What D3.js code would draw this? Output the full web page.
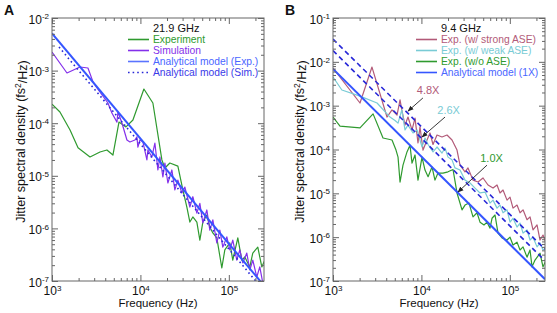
<!DOCTYPE html>
<html>
<head>
<meta charset="utf-8">
<script src="https://cdn.jsdelivr.net/npm/d3@7"></script>
<style>
  body { margin: 0; background: #fff; }
  svg { font-family: "Liberation Sans", Arial, sans-serif; }
</style>
</head>
<body>
<svg id="chart" width="557" height="313"></svg>
<script>
(function () {
  'use strict';

  // ---- panel A : 21.9 GHz ----
  var A_EXP_F = [1000, 1230, 1600, 1970, 2690, 3490, 4180, 4890, 5720, 6860, 8230, 10950, 13840,
    17500, 18920, 21540, 26530, 30210, 33530, 36260, 39200, 43500, 47030, 50850, 56430, 61000,
    65950, 73170, 83350, 90120, 102600, 110900, 126400, 140300, 151700, 172700, 186700, 212700,
    236100, 255300];
  var A_EXP_V = [2.3e-4, 1.63e-4, 7.4e-5, 3.4e-5, 2.28e-5, 2.83e-5, 3.1e-5, 2.48e-5, 1.05e-4, 8.5e-5,
    1.15e-4, 4.47e-4, 2.42e-4, 2.0e-5, 1.41e-5, 1.75e-5, 1.53e-5, 5.4e-6, 2.55e-6, 1.32e-6, 1.65e-6,
    1.32e-6, 6.0e-7, 1.32e-6, 1.8e-6, 1.06e-6, 8.2e-7, 6.6e-7, 1.77e-7, 3.9e-7, 5.3e-7, 2.5e-7,
    6.6e-7, 2.5e-7, 2.86e-7, 1.85e-7, 3.4e-7, 4.4e-7, 1.85e-7, 2.5e-7];

  var A_SIM_F = [1000, 1477, 2070, 2550, 2910, 3230, 4290, 4760, 5430, 5570, 6180, 7040, 7610, 8670,
    9130, 9370, 9870, 10670, 11840, 12150, 13490, 14580, 15770, 16610, 17960, 18920, 20450, 22700,
    24540, 26530, 29440, 31830, 36260, 39200, 43500, 47030, 50850, 56430, 61000, 65950, 73170,
    79120, 85540, 94930, 102600, 110900, 123100, 133100, 143900, 159700, 172700, 186700, 207200,
    224000, 242300];
  var A_SIM_V = [2.26e-3, 9.0e-4, 1.17e-3, 1.12e-3, 6.1e-4, 4.67e-4, 2.42e-4, 1.56e-4, 1.05e-4, 1.63e-4,
    1.01e-4, 4.8e-5, 4.4e-5, 4.8e-5, 5.5e-5, 3.5e-5, 4.8e-5, 4.4e-5, 2.0e-5, 3.1e-5, 2.28e-5, 4.2e-5,
    1.29e-5, 2.28e-5, 9.5e-6, 1.75e-5, 7.3e-6, 1.29e-5, 5.4e-6, 8.3e-6, 4.7e-6, 6.1e-6, 2.55e-6,
    4.0e-6, 1.96e-6, 3.0e-6, 1.27e-6, 2.24e-6, 9.3e-7, 1.45e-6, 5.3e-7, 9.3e-7, 4.4e-7, 6.9e-7,
    3.9e-7, 6.0e-7, 2.5e-7, 3.9e-7, 2.2e-7, 3.4e-7, 1.62e-7, 2.5e-7, 1.19e-7, 1.85e-7, 9.2e-8];

  // analytical models: end points of the straight log-log lines
  var A_MODEL_EXP_F = [1000, 250000];
  var A_MODEL_EXP_V = [5.1e-3, 8.2e-8];
  var A_MODEL_SIM_F = [1200, 250000];
  var A_MODEL_SIM_V = [2.8e-3, 6.5e-8];

  // ---- panel B : 9.4 GHz ----
  var B_STRONG_F = [1000, 2020, 2760, 4080, 4650, 5300, 5730, 6000, 6520, 7050, 7830, 8470, 9150,
    9640, 10430, 11570, 12510, 13530, 15010, 17100, 19480, 22190, 25270, 27340, 31130, 33660,
    38340, 43680, 49760, 56680, 64570, 71660, 77460, 83770, 92970, 100500, 108700, 120600,
    130500, 141100, 156500, 169300, 183000, 203100, 219600, 237400, 256700];
  var B_STRONG_V = [7.2e-3, 1.15e-3, 7.6e-3, 5.5e-4, 8.0e-4, 6.1e-4, 1.35e-3, 8.0e-4, 3.6e-4, 5.5e-4,
    2.8e-4, 5.2e-4, 1.41e-4, 3.3e-4, 9.7e-5, 1.65e-4, 2.38e-4, 1.3e-4, 2.14e-4, 1.93e-4, 2.14e-4,
    1.65e-4, 9.7e-5, 4.4e-5, 3.1e-5, 3.8e-5, 2.0e-5, 1.81e-5, 2.24e-5, 1.55e-5, 1.32e-5, 1.55e-5,
    1.02e-5, 1.19e-5, 7.0e-6, 8.2e-6, 4.6e-6, 5.4e-6, 3.6e-6, 4.2e-6, 2.5e-6, 2.9e-6, 1.46e-6,
    1.9e-6, 8.6e-7, 1.12e-6, 7.4e-7];

  var B_WEAK_F = [1000, 1260, 2020, 3150, 4410, 5030, 5440, 6000, 6520, 7050, 8040, 8920, 10160,
    10980, 11900, 13530, 15010, 17100, 18490, 19990, 22190, 23990, 27340, 31130, 35460, 40390,
    46020, 52430, 59710, 64570, 71660, 77460, 83770, 92970, 100500, 108700, 120600, 130500,
    141100, 156500, 169300, 183000, 203100, 219600, 237400, 256700];
  var B_WEAK_V = [4.5e-3, 2.28e-3, 1.65e-3, 1.15e-3, 5.5e-4, 4.6e-4, 4.0e-4, 8.0e-4, 2.8e-4, 3.6e-4,
    2.38e-4, 2.8e-4, 1.14e-4, 1.83e-4, 1.3e-4, 8.8e-5, 1.14e-4, 8.3e-5, 1.08e-4, 6.7e-5, 5.8e-5,
    3.8e-5, 3.4e-5, 2.0e-5, 1.72e-5, 1.32e-5, 1.02e-5, 1.07e-5, 6.0e-6, 7.0e-6, 4.6e-6, 5.4e-6,
    3.6e-6, 4.2e-6, 2.2e-6, 2.7e-6, 1.7e-6, 2.1e-6, 1.24e-6, 1.46e-6, 8.6e-7, 1.0e-6, 6.0e-7,
    7.4e-7, 5.1e-7, 5.6e-7];

  var B_NOASE_F = [1000, 1200, 2020, 2840, 3680, 4650, 5160, 5440, 5730, 6190, 6870, 7430, 7830,
    8470, 9150, 10160, 10980, 11900, 13180, 14230, 15400, 17550, 19990, 22780, 25270, 28800,
    31130, 34550, 38340, 42560, 46020, 51070, 55230, 59710, 62900, 68020, 73540, 81620, 92970,
    100500, 108700, 120600, 130500, 141100, 156500, 169300, 178300, 192800, 219600, 237400, 256700];
  var B_NOASE_V = [5.5e-4, 3.4e-4, 3.1e-4, 6.5e-4, 1.83e-4, 1.65e-4, 9.7e-5, 6.7e-5, 1.81e-5, 4.4e-5,
    8.8e-5, 1.25e-4, 4.9e-5, 7.5e-5, 2.0e-5, 6.7e-5, 3.4e-5, 2.4e-5, 4.0e-5, 2.0e-5, 2.9e-5, 2.9e-5,
    3.1e-5, 3.5e-5, 1.02e-5, 4.2e-6, 5.4e-6, 6.0e-6, 2.9e-6, 3.6e-6, 2.2e-6, 1.9e-6, 2.2e-6, 1.6e-6,
    2.7e-6, 3.2e-6, 1.24e-6, 9.6e-7, 8.6e-7, 1.0e-6, 6.6e-7, 7.7e-7, 5.1e-7, 6.0e-7, 3.5e-7, 5.1e-7,
    2.1e-7, 3.0e-7, 4.3e-7, 2.1e-7, 3.0e-7];

  var B_MODEL_F = [1000, 250000];
  var B_MODEL_1X_V = [6.9e-3, 1.1e-7];
  var B_MODEL_26X_V = [1.8e-2, 2.9e-7];
  var B_MODEL_48X_V = [3.3e-2, 5.3e-7];

  // annotation labels: text anchor and arrow (tail -> head), in data units
  var B_NOTE_LABELS = ['4.8X', '2.6X', '1.0X'];
  var B_NOTE_TEXT_F = [11900, 20300, 62100];
  var B_NOTE_TEXT_V = [1.85e-3, 6.46e-4, 5.2e-5];
  var B_NOTE_TAIL_F = [10400, 18500, 55200];
  var B_NOTE_TAIL_V = [1.5e-3, 5.5e-4, 4.4e-5];
  var B_NOTE_HEAD_F = [7050, 10160, 25900];
  var B_NOTE_HEAD_V = [7.5e-4, 1.93e-4, 1.07e-5];

  var X_DOMAIN = [1e3, 2.5e5];

  var GREEN = '#2f9a2f';
  var PURPLE = '#8430ea';
  var BLUE = '#3556ff';
  var DARKBLUE = '#2828d8';
  var MAUVE = '#b25a78';
  var CYAN = '#79cbd5';
  var FRAME = '#666';

  var svg = d3.select('#chart');
  svg.append('defs').append('marker')
    .attr('id', 'arrow')
    .attr('viewBox', '0 0 10 10')
    .attr('refX', 9)
    .attr('refY', 5)
    .attr('markerWidth', 6)
    .attr('markerHeight', 6)
    .attr('markerUnits', 'userSpaceOnUse')
    .attr('orient', 'auto')
    .append('path')
    .attr('d', 'M0,1L10,5L0,9Z')
    .attr('fill', '#222');

  drawPanel({
    id: 'A',
    letterX: 4,
    box: { left: 52, right: 264, top: 18, bottom: 281 },
    yDomain: [1e-7, 1e-2],
    titleX: 21,
    header: '21.9 GHz',
    legendX: 128,
    series: [
      { f: A_EXP_F, v: A_EXP_V, color: GREEN, width: 1.2 },
      { f: A_SIM_F, v: A_SIM_V, color: PURPLE, width: 1.2 },
      { f: A_MODEL_SIM_F, v: A_MODEL_SIM_V, color: DARKBLUE, width: 1.6, dash: '1.6,3' },
      { f: A_MODEL_EXP_F, v: A_MODEL_EXP_V, color: BLUE, width: 2 }
    ],
    legend: [
      { text: 'Experiment', color: GREEN, textColor: GREEN },
      { text: 'Simulation', color: PURPLE, textColor: PURPLE },
      { text: 'Analytical model (Exp.)', color: '#5a74ff', textColor: '#4a66ff' },
      { text: 'Analytical model (Sim.)', color: DARKBLUE, textColor: '#3a3ae8', dash: '1.6,3' }
    ]
  });

  var panelB = drawPanel({
    id: 'B',
    letterX: 285,
    box: { left: 333, right: 545, top: 18, bottom: 281 },
    yDomain: [1e-7, 1e-1],
    titleX: 300,
    header: '9.4 GHz',
    legendX: 416,
    series: [
      { f: B_STRONG_F, v: B_STRONG_V, color: MAUVE, width: 1.2 },
      { f: B_WEAK_F, v: B_WEAK_V, color: CYAN, width: 1.2 },
      { f: B_NOASE_F, v: B_NOASE_V, color: GREEN, width: 1.2 },
      { f: B_MODEL_F, v: B_MODEL_48X_V, color: DARKBLUE, width: 1.6, dash: '5,3.5' },
      { f: B_MODEL_F, v: B_MODEL_26X_V, color: DARKBLUE, width: 1.6, dash: '5,3.5' },
      { f: B_MODEL_F, v: B_MODEL_1X_V, color: BLUE, width: 2 }
    ],
    legend: [
      { text: 'Exp. (w/ strong ASE)', color: MAUVE, textColor: MAUVE },
      { text: 'Exp. (w/ weak ASE)', color: CYAN, textColor: CYAN },
      { text: 'Exp. (w/o ASE)', color: GREEN, textColor: GREEN },
      { text: 'Analytical model (1X)', color: BLUE, textColor: '#4a66ff' }
    ]
  });

  // annotations on panel B
  var noteColors = [MAUVE, CYAN, GREEN];
  B_NOTE_LABELS.forEach(function (label, i) {
    panelB.g.append('text')
      .attr('x', panelB.x(B_NOTE_TEXT_F[i]))
      .attr('y', panelB.y(B_NOTE_TEXT_V[i]))
      .attr('text-anchor', 'middle')
      .attr('font-size', '11px')
      .attr('fill', noteColors[i])
      .text(label);
    panelB.g.append('line')
      .attr('x1', panelB.x(B_NOTE_TAIL_F[i]))
      .attr('y1', panelB.y(B_NOTE_TAIL_V[i]))
      .attr('x2', panelB.x(B_NOTE_HEAD_F[i]))
      .attr('y2', panelB.y(B_NOTE_HEAD_V[i]))
      .attr('stroke', '#222')
      .attr('stroke-width', 0.9)
      .attr('marker-end', 'url(#arrow)');
  });

  function logTicks(lo, hi) {
    var out = [];
    var e0 = Math.floor(Math.log10(lo));
    var e1 = Math.ceil(Math.log10(hi));
    for (var e = e0; e <= e1; e++) {
      for (var m = 1; m <= 9; m++) {
        var v = +(m + 'e' + e);
        if (v >= lo * 0.999 && v <= hi * 1.001) out.push(v);
      }
    }
    return out;
  }

  function isMajor(d) {
    var l = Math.log10(d);
    return Math.abs(l - Math.round(l)) < 1e-9;
  }

  function powerLabel(sel) {
    sel.each(function (d) {
      var t = d3.select(this);
      t.text(null);
      if (!isMajor(d)) return;
      t.append('tspan').text('10');
      t.append('tspan')
        .attr('font-size', '8px')
        .attr('dy', '-0.55em')
        .text(String(Math.round(Math.log10(d))));
    });
  }

  function drawPanel(cfg) {
    var b = cfg.box;
    var g = svg.append('g').attr('class', 'panel-' + cfg.id);

    var x = d3.scaleLog().domain(X_DOMAIN).range([b.left, b.right]);
    var y = d3.scaleLog().domain(cfg.yDomain).range([b.bottom, b.top]);

    var xt = logTicks(X_DOMAIN[0], X_DOMAIN[1]);
    var yt = logTicks(cfg.yDomain[0], cfg.yDomain[1]);

    // clipped data
    var clipId = 'clip-' + cfg.id;
    g.append('clipPath').attr('id', clipId)
      .append('rect')
      .attr('x', b.left).attr('y', b.top)
      .attr('width', b.right - b.left).attr('height', b.bottom - b.top);

    var line = d3.line()
      .x(function (d) { return x(d[0]); })
      .y(function (d) { return y(d[1]); });

    var plot = g.append('g').attr('clip-path', 'url(#' + clipId + ')');
    cfg.series.forEach(function (s) {
      plot.append('path')
        .datum(d3.zip(s.f, s.v))
        .attr('fill', 'none')
        .attr('stroke', s.color)
        .attr('stroke-width', s.width)
        .attr('stroke-linejoin', 'round')
        .attr('stroke-dasharray', s.dash || null)
        .attr('d', line);
    });

    // axes, ticks pointing inwards on all four sides
    var bottom = g.append('g')
      .attr('transform', 'translate(0,' + b.bottom + ')')
      .call(d3.axisBottom(x).tickValues(xt));
    bottom.selectAll('.tick line').attr('y2', function (d) { return isMajor(d) ? -6 : -3; });
    bottom.selectAll('.tick text').attr('y', 14).attr('dy', 0).call(powerLabel);

    var top = g.append('g')
      .attr('transform', 'translate(0,' + b.top + ')')
      .call(d3.axisTop(x).tickValues(xt).tickFormat(''));
    top.selectAll('.tick line').attr('y2', function (d) { return isMajor(d) ? 6 : 3; });

    var left = g.append('g')
      .attr('transform', 'translate(' + b.left + ',0)')
      .call(d3.axisLeft(y).tickValues(yt));
    left.selectAll('.tick line').attr('x2', function (d) { return isMajor(d) ? 6 : 3; });
    left.selectAll('.tick text').attr('x', -3).attr('dy', '0.42em').call(powerLabel);

    var right = g.append('g')
      .attr('transform', 'translate(' + b.right + ',0)')
      .call(d3.axisRight(y).tickValues(yt).tickFormat(''));
    right.selectAll('.tick line').attr('x2', function (d) { return isMajor(d) ? -6 : -3; });

    g.selectAll('.domain').remove();
    g.selectAll('.tick line').attr('stroke', FRAME);
    g.selectAll('.tick text')
      .attr('fill', '#111')
      .attr('font-size', '12px')
      .attr('font-family', '"Liberation Sans", Arial, sans-serif');

    g.append('rect')
      .attr('x', b.left).attr('y', b.top)
      .attr('width', b.right - b.left).attr('height', b.bottom - b.top)
      .attr('fill', 'none')
      .attr('stroke', FRAME)
      .attr('stroke-width', 1);

    // titles
    g.append('text')
      .attr('x', (b.left + b.right) / 2)
      .attr('y', 307)
      .attr('text-anchor', 'middle')
      .attr('font-size', '11.5px')
      .attr('fill', '#111')
      .text('Frequency (Hz)');

    var yt2 = g.append('text')
      .attr('transform', 'translate(' + (cfg.titleX + 4) + ',' + ((b.top + b.bottom) / 2 - 8) + ') rotate(-90)')
      .attr('text-anchor', 'middle')
      .attr('font-size', '12.5px')
      .attr('fill', '#111');
    yt2.append('tspan').text('Jitter spectral density (fs');
    yt2.append('tspan').attr('font-size', '8.5px').attr('dy', '-0.5em').text('2');
    yt2.append('tspan').attr('dy', '0.5em').text('/Hz)');

    g.append('text')
      .attr('x', cfg.letterX)
      .attr('y', 15)
      .attr('font-size', '14px')
      .attr('font-weight', 'bold')
      .attr('fill', '#111')
      .text(cfg.id);

    // legend
    var lg = g.append('g');
    lg.append('text')
      .attr('x', cfg.legendX + 25)
      .attr('y', 32)
      .attr('font-size', '11px')
      .attr('fill', '#111')
      .text(cfg.header);
    cfg.legend.forEach(function (item, i) {
      var ly = 39.5 + i * 11;
      lg.append('line')
        .attr('x1', cfg.legendX).attr('x2', cfg.legendX + 21)
        .attr('y1', ly).attr('y2', ly)
        .attr('stroke', item.color)
        .attr('stroke-width', 1.6)
        .attr('stroke-dasharray', item.dash || null);
      lg.append('text')
        .attr('x', cfg.legendX + 25)
        .attr('y', ly + 3.7)
        .attr('font-size', '10.3px')
        .attr('fill', item.textColor)
        .text(item.text);
    });

    return { g: g, x: x, y: y };
  }
})();
</script>
</body>
</html>
